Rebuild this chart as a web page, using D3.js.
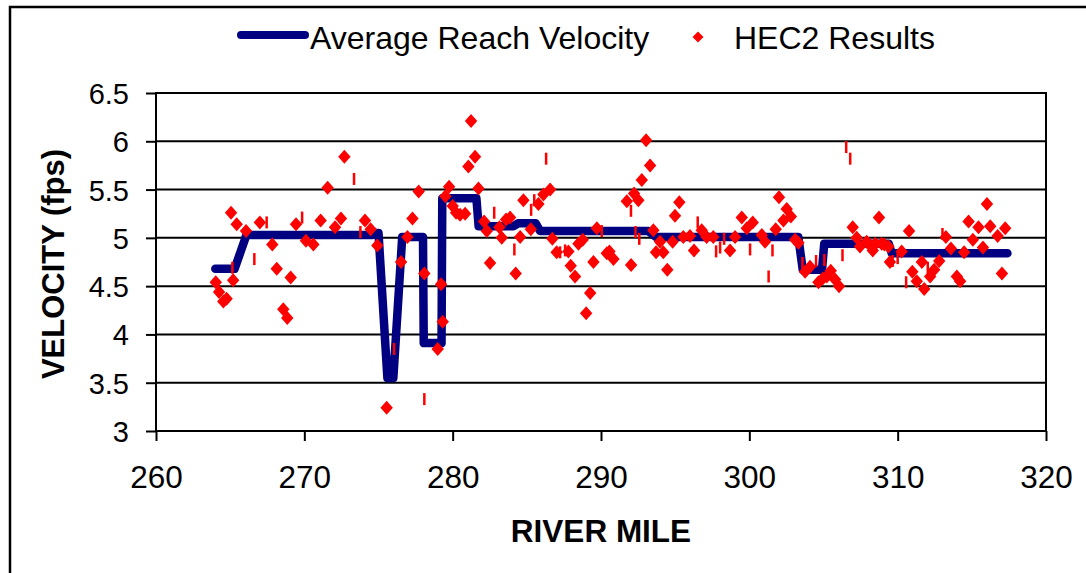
<!DOCTYPE html>
<html>
<head>
<meta charset="utf-8">
<script src="https://cdn.jsdelivr.net/npm/d3@7"></script>
<style>
  html, body { margin: 0; padding: 0; background: #fff; overflow: hidden; }
  svg { display: block; font-family: "Liberation Sans", Arial, sans-serif; }
</style>
</head>
<body>
<svg id="chart" width="1086" height="573"></svg>
<script>
// ---- data ----
const xTicks = [260, 270, 280, 290, 300, 310, 320];
const yTicks = [3, 3.5, 4, 4.5, 5, 5.5, 6, 6.5];
const seriesNames = ["Average Reach Velocity", "HEC2 Results"];

// Average Reach Velocity (river mile, fps)
const avgMile = [264.0, 265.3, 266.1, 274.6, 274.8, 275.0, 275.6, 276.0, 276.6, 278.0, 278.05, 279.25, 279.3, 281.6, 281.75, 284.1, 284.4, 285.6, 285.9, 293.2, 293.7, 303.3, 303.6, 304.9, 305.05, 309.4, 309.6, 317.4];
const avgVel  = [4.68, 4.68, 5.03, 5.03, 5.05, 5.05, 3.55, 3.55, 5.01, 5.01, 3.91, 3.91, 5.41, 5.41, 5.12, 5.12, 5.15, 5.15, 5.07, 5.07, 5.01, 5.01, 4.67, 4.67, 4.94, 4.94, 4.84, 4.84];

// HEC2 Results (diamond markers)
const hecMile = [264.03, 264.25, 264.54, 264.76, 265.06, 265.2, 265.44, 266.07, 267.0, 267.84, 268.14, 268.58, 268.85, 269.08, 269.44, 270.11, 270.61, 271.1, 271.57, 272.07, 272.47, 272.7, 274.09, 274.47, 274.92,
  275.55, 276.52, 276.95, 277.29, 277.71, 278.09, 278.99, 279.22, 279.33, 279.51, 279.76, 280.0, 280.23, 280.5, 280.84, 281.06, 281.24, 281.51, 281.74, 282.12, 282.3, 282.52, 283.15, 283.31, 283.6, 283.87, 284.25, 284.55, 284.77, 285.27, 285.78, 286.12, 286.57, 286.72, 287.01,
  287.8, 287.96, 288.25, 288.48, 288.77, 289.0, 289.27, 289.49, 289.72, 290.39, 290.57, 290.84, 291.74, 292.03, 292.23, 292.52, 292.75, 293.04, 293.31, 293.53, 293.71, 293.98, 294.2, 294.47, 294.83, 294.99, 295.28, 295.55, 296.0, 296.27, 296.79, 297.12, 297.57, 298.7, 299.04, 299.49, 299.83, 300.23,
  300.84, 301.06, 301.78, 302.0, 302.3, 302.52, 302.8, 303.09, 303.31, 303.76, 304.09, 304.66, 304.95, 305.22, 305.49, 305.78, 306.05, 306.97, 307.24, 307.46, 307.91, 308.1, 308.32, 308.5, 308.74, 308.92, 309.1, 309.37, 309.48, 310.27, 310.77, 310.99, 311.29, 311.63, 311.79, 312.19, 312.46, 312.8, 313.25, 313.59, 313.99, 314.21, 314.48, 314.78, 315.07, 315.45, 315.75, 316.02, 316.24, 316.74, 317.03, 317.25];
const hecVel = [4.54, 4.44, 4.34, 4.37, 5.26, 4.56, 5.14, 5.07, 5.16, 4.93, 4.68, 4.26, 4.17, 4.59, 5.14, 4.97, 4.93, 5.18, 5.52, 5.11, 5.20, 5.84, 5.18, 5.09, 4.92,
  3.24, 4.75, 5.01, 5.20, 5.48, 4.63, 3.85, 4.52, 4.13, 5.43, 5.53, 5.33, 5.26, 5.24, 5.25, 5.74, 6.21, 5.84, 5.51, 5.17, 5.07, 4.74, 5.11, 5.0, 5.19, 5.21, 4.63, 5.01, 5.39, 5.09, 5.35, 5.45, 5.50, 4.99, 4.85,
  4.86, 4.71, 4.60, 4.94, 4.98, 4.22, 4.43, 4.75, 5.10, 4.84, 4.86, 4.78, 5.38, 4.72, 5.46, 5.39, 5.60, 6.01, 5.75, 5.08, 4.85, 4.96, 4.85, 4.67, 4.96, 5.23, 5.37, 5.01, 5.02, 4.87, 5.08, 5.01, 5.01, 4.87, 5.01, 5.21, 5.10, 5.16,
  5.03, 4.96, 5.09, 5.42, 5.18, 5.30, 5.22, 4.98, 4.95, 4.65, 4.70, 4.54, 4.58, 4.60, 4.66, 4.57, 4.50, 5.11, 5.0, 4.91, 4.96, 4.93, 4.87, 4.94, 5.21, 4.94, 4.93, 4.91, 4.75, 4.86, 5.07, 4.65, 4.55, 4.75, 4.47, 4.60, 4.67, 4.76, 5.01, 4.89, 4.60, 4.55, 4.85, 5.17, 4.98, 5.11, 4.90, 5.35, 5.12, 5.02, 4.63, 5.10];

// HEC2 Results drawn as short vertical dashes
const dashMile = [265.15, 266.63, 267.46, 269.85, 273.35, 273.78, 276.05, 278.09, 282.8, 284.16, 285.29, 285.5, 286.3, 287.24, 287.58, 290.05, 292.02, 292.33, 292.58, 296.52, 297.76, 298.03, 298.3, 300.05, 301.3, 301.56, 303.58, 304.5, 305.06, 306.28, 306.53, 306.8, 309.66, 310.0, 310.57, 312.03, 313.02];
const dashVel  = [4.69, 4.78, 5.16, 5.21, 5.61, 5.06, 3.85, 3.33, 5.26, 4.88, 5.29, 5.39, 5.82, 4.85, 4.87, 5.07, 5.28, 5.06, 4.99, 5.16, 4.86, 4.90, 4.99, 4.88, 4.60, 4.87, 4.74, 4.76, 4.77, 4.82, 5.94, 5.82, 4.76, 4.79, 4.54, 4.69, 5.04];

// ---- drawing ----
const svg = d3.select("#chart");
const L = 156, R = 1046, T = 93, B = 431;
const x = d3.scaleLinear().domain([260, 320]).range([L, R]);
const y = d3.scaleLinear().domain([3, 6.5]).range([B, T]);

const NAVY = "#000080", RED = "#FF0000";

// outer chart border (left and top visible)
svg.append("path")
  .attr("d", "M10,600 V7 H1100")
  .attr("fill", "none").attr("stroke", "#000").attr("stroke-width", 2.5);

// gridlines
svg.append("g").selectAll("line").data(yTicks).join("line")
  .attr("x1", L).attr("x2", R)
  .attr("y1", d => y(d)).attr("y2", d => y(d))
  .attr("stroke", "#000").attr("stroke-width", 2);

// plot frame
svg.append("rect")
  .attr("x", L).attr("y", T).attr("width", R - L).attr("height", B - T)
  .attr("fill", "none").attr("stroke", "#000").attr("stroke-width", 2);

// x axis
const gx = svg.append("g").attr("transform", `translate(0,${B})`)
  .call(d3.axisBottom(x).tickValues(xTicks).tickSize(10).tickFormat(d3.format("d")));
gx.select(".domain").remove();
gx.selectAll(".tick line").attr("stroke", "#000").attr("stroke-width", 2);
gx.selectAll(".tick text")
  .attr("y", 57).attr("dy", 0)
  .attr("fill", "#000")
  .style("font-size", "31.5px")
  .style("font-family", "'Liberation Sans', Arial, sans-serif");

// y axis
const gy = svg.append("g").attr("transform", `translate(${L},0)`)
  .call(d3.axisLeft(y).tickValues(yTicks).tickSize(10).tickFormat(d => String(d)));
gy.select(".domain").remove();
gy.selectAll(".tick line").attr("stroke", "#000").attr("stroke-width", 2);
gy.selectAll(".tick text")
  .attr("x", -27).attr("dy", "0.36em")
  .attr("fill", "#000")
  .style("font-size", "29px")
  .style("font-family", "'Liberation Sans', Arial, sans-serif");

// axis titles
svg.append("text")
  .attr("x", (L + R) / 2).attr("y", 542)
  .attr("text-anchor", "middle")
  .style("font-size", "31.5px").style("font-weight", "bold")
  .text("RIVER MILE");
svg.append("text")
  .attr("transform", `translate(64,${(T + B) / 2 + 2}) rotate(-90)`)
  .attr("text-anchor", "middle")
  .style("font-size", "31px").style("font-weight", "bold")
  .text("VELOCITY (fps)");

// average reach velocity line
const avgData = avgMile.map((m, i) => [m, avgVel[i]]);
svg.append("path")
  .datum(avgData)
  .attr("d", d3.line().x(d => x(d[0])).y(d => y(d[1])))
  .attr("fill", "none").attr("stroke", NAVY).attr("stroke-width", 8.5)
  .attr("stroke-linejoin", "round").attr("stroke-linecap", "round");

// HEC2 dashes
const dashData = dashMile.map((m, i) => [m, dashVel[i]]);
svg.append("g").selectAll("line").data(dashData).join("line")
  .attr("x1", d => x(d[0])).attr("x2", d => x(d[0]))
  .attr("y1", d => y(d[1]) - 6).attr("y2", d => y(d[1]) + 6)
  .attr("stroke", RED).attr("stroke-width", 2.5);

// HEC2 diamonds
const diamond = "M0,-7 L6.2,0 L0,7 L-6.2,0 Z";
const hecData = hecMile.map((m, i) => [m, hecVel[i]]);
svg.append("g").selectAll("path").data(hecData).join("path")
  .attr("transform", d => `translate(${x(d[0])},${y(d[1])})`)
  .attr("d", diamond)
  .attr("fill", RED);

// legend
const lg = svg.append("g");
lg.append("line")
  .attr("x1", 241).attr("x2", 305).attr("y1", 35).attr("y2", 35)
  .attr("stroke", NAVY).attr("stroke-width", 8).attr("stroke-linecap", "round");
lg.append("text").attr("x", 310).attr("y", 49)
  .style("font-size", "32px").text(seriesNames[0]);
lg.append("path").attr("transform", "translate(698,37)")
  .attr("d", "M0,-5.5 L5.5,0 L0,5.5 L-5.5,0 Z").attr("fill", RED);
lg.append("text").attr("x", 734).attr("y", 49)
  .style("font-size", "32px").text(seriesNames[1]);
</script>
</body>
</html>
